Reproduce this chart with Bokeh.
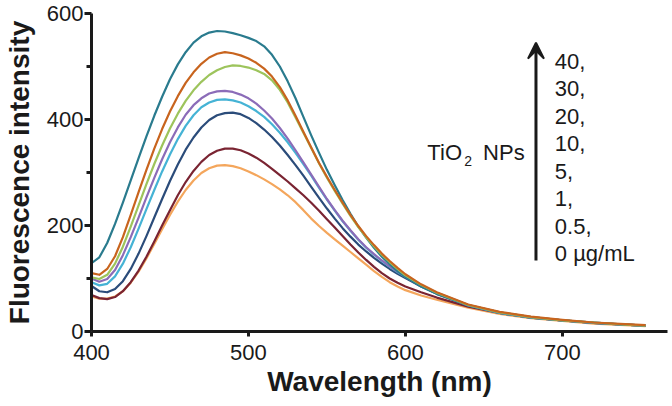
from bokeh.plotting import figure
from bokeh.models import Range1d, FixedTicker, Label, Arrow, VeeHead
from bokeh.embed import file_html
from bokeh.resources import INLINE

# ---- data ----
wavelength = [400, 405, 410, 415, 420, 425, 430, 435, 440, 445, 450, 455, 460, 465, 470,
              475, 480, 485, 490, 495, 500, 505, 510, 515, 520, 525, 530, 535, 540, 545,
              550, 555, 560, 565, 570, 575, 580, 585, 590, 595, 600,
              610, 620, 640, 660, 680, 700, 720, 740, 753]

conc_40 = [129, 140, 167, 203, 243, 285, 327, 368, 407, 443, 476, 504, 527, 545, 557,
           564, 567, 566, 563, 559, 554, 548, 538, 522, 500, 472, 440, 405, 370, 337,
           305, 276, 248, 222, 198, 177, 158, 141, 127, 114, 103,
           85, 71, 50, 36, 27, 21, 17, 13, 11]
conc_30 = [110, 107, 118, 142, 178, 220, 263, 305, 345, 382, 415, 444, 469, 489, 505,
           517, 524, 527, 525, 521, 515, 507, 496, 481, 461, 436, 407, 377, 347, 318,
           292, 267, 243, 220, 199, 180, 163, 147, 133, 120, 108,
           89, 74, 51, 37, 28, 22, 17, 14, 12]
conc_20 = [102, 99, 107, 128, 160, 198, 238, 278, 316, 351, 383, 411, 435, 455, 471,
           484, 493, 499, 502, 501, 498, 493, 486, 474, 456, 432, 404, 375, 346, 317,
           290, 265, 241, 218, 197, 178, 161, 145, 131, 118, 106,
           88, 73, 50, 36, 27, 21, 17, 13, 11]
conc_10 = [100, 94, 99, 116, 144, 178, 215, 253, 290, 325, 357, 385, 409, 427, 440,
           449, 453, 454, 452, 447, 440, 430, 417, 402, 384, 364, 342, 319, 296, 273,
           250, 229, 209, 191, 174, 159, 146, 134, 123, 113, 104,
           87, 73, 50, 36, 27, 21, 17, 13, 11]
conc_5 = [93, 87, 90, 104, 128, 159, 194, 231, 267, 302, 334, 363, 388, 408, 423,
          432, 437, 438, 436, 432, 425, 416, 405, 391, 375, 357, 337, 316, 294, 271,
          249, 228, 208, 190, 173, 158, 145, 133, 122, 112, 103,
          86, 72, 49, 35, 26, 21, 16, 13, 11]
conc_1 = [86, 76, 74, 80, 95, 118, 147, 180, 215, 250, 284, 315, 343, 366, 385,
          399, 408, 412, 413, 410, 403, 393, 381, 367, 351, 333, 314, 294, 273, 252,
          232, 213, 195, 179, 164, 151, 139, 128, 118, 109, 101,
          85, 71, 49, 35, 26, 21, 16, 13, 11]
conc_05 = [69, 63, 61, 65, 76, 93, 115, 141, 170, 200, 229, 257, 282, 303, 320,
           333, 341, 345, 345, 342, 336, 328, 318, 307, 295, 283, 270, 257, 243, 228,
           212, 196, 180, 164, 149, 135, 122, 110, 100, 92, 85,
           74, 64, 47, 35, 26, 21, 16, 13, 11]
conc_0 = [66, 62, 62, 66, 76, 92, 113, 138, 165, 193, 220, 245, 267, 285, 299,
          308, 313, 314, 312, 308, 302, 295, 287, 278, 268, 257, 244, 229, 213, 199,
          186, 174, 162, 150, 138, 126, 114, 103, 93, 85, 78,
          68, 60, 45, 33, 25, 20, 15, 12, 10]

series = [conc_0, conc_05, conc_1, conc_5, conc_10, conc_40, conc_20, conc_30]
colors = ["#f4a65c", "#7a2432", "#2b4c7a", "#45b3d5", "#8b6cb8", "#2a7b8e", "#9dc45c", "#c8641e"]

x_ticks = [400, 500, 600, 700]
y_ticks = [0, 200, 400, 600]
y_minor = [100, 300, 500]

conc_labels = ["40,", "30,", "20,", "10,", "5,", "1,", "0.5,", "0 \u00b5g/mL"]

FONT = "Liberation Sans"
INK = "#1a1a1a"

p = figure(width=672, height=406, output_backend="svg", toolbar_location=None,
           x_range=Range1d(400, 767), y_range=Range1d(0, 600),
           min_border_left=89, min_border_right=5, min_border_top=13, min_border_bottom=75)
p.grid.visible = False
p.outline_line_color = None
p.background_fill_color = "white"
p.border_fill_color = "white"

for vals, c in zip(series, colors):
    p.line(wavelength, vals, line_color=c, line_width=2.2, line_join="round")

xa = p.xaxis[0]
xa.ticker = FixedTicker(ticks=x_ticks)
xa.axis_line_width = 3
xa.axis_line_color = INK
xa.major_tick_line_width = 3
xa.major_tick_line_color = INK
xa.major_tick_out = 5
xa.major_tick_in = 0
xa.minor_tick_line_color = None
xa.major_label_text_font = FONT
xa.major_label_text_font_size = "22px"
xa.major_label_text_color = INK
xa.major_label_standoff = 8
xa.axis_label = "Wavelength (nm)"
xa.axis_label_text_font = FONT
xa.axis_label_text_font_size = "28px"
xa.axis_label_text_font_style = "bold"
xa.axis_label_text_color = INK
xa.axis_label_standoff = 3

ya = p.yaxis[0]
ya.ticker = FixedTicker(ticks=y_ticks, minor_ticks=y_minor)
ya.axis_line_width = 3
ya.axis_line_color = INK
ya.major_tick_line_width = 3
ya.major_tick_line_color = INK
ya.major_tick_out = 7
ya.major_tick_in = 0
ya.minor_tick_line_width = 3
ya.minor_tick_line_color = INK
ya.minor_tick_out = 5
ya.minor_tick_in = 0
ya.major_label_text_font = FONT
ya.major_label_text_font_size = "22px"
ya.major_label_text_color = INK
ya.major_label_standoff = 1
ya.axis_label = "Fluorescence intensity"
ya.axis_label_text_font = FONT
ya.axis_label_text_font_size = "28px"
ya.axis_label_text_font_style = "bold"
ya.axis_label_text_color = INK
ya.axis_label_standoff = 9

# ---- annotation: arrow and concentration list ----
arrow_x = 683.2
p.add_layout(Arrow(end=VeeHead(size=16, fill_color=INK, line_color=INK, line_width=2),
                   x_start=arrow_x, y_start=134, x_end=arrow_x, y_end=545,
                   line_width=3, line_color=INK))

list_x = 695.2
list_y0 = 510.0
list_step = 51.9
for i, t in enumerate(conc_labels):
    p.add_layout(Label(x=list_x, y=list_y0 - i * list_step, text=t,
                       text_font=FONT, text_font_size="22px", text_color=INK,
                       text_align="left", text_baseline="middle"))

p.add_layout(Label(x=614.0, y=336.8, text="TiO", text_font=FONT, text_font_size="22px",
                   text_color=INK, text_align="left", text_baseline="middle"))
p.add_layout(Label(x=637.5, y=320.8, text="2", text_font=FONT, text_font_size="14px",
                   text_color=INK, text_align="left", text_baseline="middle"))
p.add_layout(Label(x=649.5, y=336.8, text="NPs", text_font=FONT, text_font_size="22px",
                   text_color=INK, text_align="left", text_baseline="middle"))

open("out.html", "w").write(file_html(p, INLINE))
